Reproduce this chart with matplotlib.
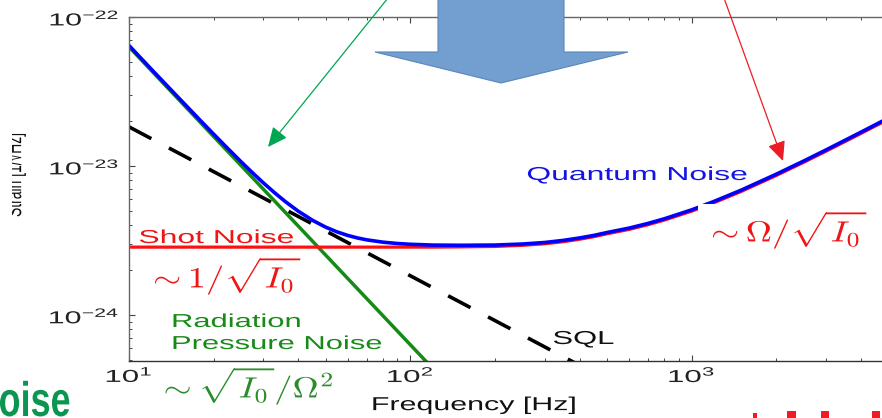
import matplotlib
matplotlib.use('Agg')
import matplotlib.pyplot as plt
from matplotlib.patches import Polygon, Rectangle, FancyArrowPatch
from matplotlib.patheffects import AbstractPathEffect
from matplotlib.transforms import Affine2D, offset_copy

# noise budget curves (Hz, strain / sqrt(Hz))
freq = [10, 12, 15, 18, 20, 22, 25, 28, 30, 33, 36, 40, 45, 50, 55, 60, 65, 70, 80, 90,
        100, 120, 150, 200, 250, 300, 350, 400, 450, 500, 600, 700, 800, 1000, 1200,
        1500, 2000, 2500, 3000, 4000, 5000, 6000]
shot_noise = [2.85e-24, 2.85e-24, 2.85e-24, 2.85e-24, 2.85e-24, 2.85e-24, 2.85e-24,
              2.85e-24, 2.85e-24, 2.85e-24, 2.85e-24, 2.85e-24, 2.85e-24, 2.85e-24,
              2.85e-24, 2.85e-24, 2.85e-24, 2.85e-24, 2.85e-24, 2.85e-24, 2.85e-24,
              2.85e-24, 2.86e-24, 2.88e-24, 2.93e-24, 3.00e-24, 3.10e-24, 3.22e-24,
              3.35e-24, 3.50e-24, 3.75e-24, 4.03e-24, 4.33e-24, 4.97e-24, 5.66e-24,
              6.74e-24, 8.63e-24, 1.057e-23, 1.254e-23, 1.653e-23, 2.055e-23, 2.46e-23]
quantum_noise = [6.31e-23, 4.376e-23, 2.814e-23, 1.965e-23, 1.601e-23, 1.333e-23, 1.047e-23,
                 8.526e-24, 7.558e-24, 6.449e-24, 5.635e-24, 4.861e-24, 4.219e-24, 3.804e-24,
                 3.530e-24, 3.344e-24, 3.216e-24, 3.126e-24, 3.015e-24, 2.954e-24, 2.918e-24,
                 2.883e-24, 2.874e-24, 2.884e-24, 2.93e-24, 3.00e-24, 3.10e-24, 3.22e-24,
                 3.35e-24, 3.50e-24, 3.75e-24, 4.03e-24, 4.33e-24, 4.97e-24, 5.66e-24,
                 6.74e-24, 8.63e-24, 1.057e-23, 1.254e-23, 1.653e-23, 2.055e-23, 2.46e-23]
rp_freq = [10, 150]
rp_noise = [6.3e-23, 2.8e-25]
sql_freq = [10, 1000]
sql = [1.83e-23, 1.83e-25]

W, H = 882, 418


def fx(x):
    return x / W


def fy(y):
    return 1 - y / H


class Stretch(AbstractPathEffect):
    # widen glyphs horizontally, keeping one edge (or the centre) fixed
    def __init__(self, sx, anchor='center'):
        super().__init__()
        self.sx = sx
        self.anchor = anchor

    def draw_path(self, renderer, gc, tpath, affine, rgbFace=None):
        ext = tpath.get_extents(affine)
        if self.anchor == 'left':
            x0 = ext.x0
        elif self.anchor == 'right':
            x0 = ext.x1
        else:
            x0 = (ext.x0 + ext.x1) / 2
        t = affine + Affine2D().translate(-x0, 0).scale(self.sx, 1).translate(x0, 0)
        renderer.draw_path(gc, tpath, t, rgbFace)


plt.rcParams['font.family'] = ['Liberation Sans', 'DejaVu Sans']

fig = plt.figure(figsize=(W / 100, H / 100), dpi=100)
ax = fig.add_axes([fx(129), fy(361), (973 - 129) / W, (361 - 17) / H])
ax.set_xscale('log')
ax.set_yscale('log')
ax.set_xlim(10, 1e4)
ax.set_ylim(4.9e-25, 1e-22)

ax.plot(sql_freq, sql, color='black', lw=2.6, ls=(0, (7, 5.5)))
ax.plot(rp_freq, rp_noise, color='#168a16', lw=2.5)
ax.plot(freq, shot_noise, color='#ff1010', lw=2.3)
ax.plot(freq, quantum_noise, color='#0000ff', lw=2.6, solid_joinstyle='round',
        transform=offset_copy(ax.transData, fig=fig, y=1.3, units='dots'))

ax.set_xticks([10, 100, 1000, 10000])
ax.set_yticks([1e-24, 1e-23, 1e-22])
ax.tick_params(which='both', direction='in', top=True, right=True, colors='#444444',
               labelcolor='#222222', labelsize=12.5)
ax.tick_params(which='major', length=4.5, width=0.8)
ax.tick_params(which='minor', length=2.3, width=0.7)
ax.tick_params(axis='x', pad=3)
ax.tick_params(axis='y', pad=7)
for side in ['left', 'top', 'right']:
    ax.spines[side].set_color('#666666')
ax.spines['bottom'].set_color('#333333')
for sp in ax.spines.values():
    sp.set_linewidth(1.0)

ax.set_xlabel('Frequency [Hz]', fontsize=13.5, color='#111111')
ax.xaxis.set_label_coords((474 - 129) / 844.5, -0.105)
ax.xaxis.label.set_path_effects([Stretch(1.62)])

fig.canvas.draw()
for tick in ax.xaxis.get_major_ticks():
    tick.label1.set_path_effects([Stretch(1.8, 'center')])
for tick in ax.yaxis.get_major_ticks():
    tick.label1.set_path_effects([Stretch(1.75, 'right')])


def label(x, y, s, size, color, sx=1.65, ha='left', va='baseline', **kw):
    t = fig.text(fx(x), fy(y), s, fontsize=size, color=color, ha=ha, va=va, **kw)
    t.set_path_effects([Stretch(sx, ha)])
    return t


# white boxes behind the scaling laws
for x0, y0, x1, y1 in [(145, 252, 318, 296), (698, 204, 890, 252)]:
    fig.add_artist(Rectangle((fx(x0), fy(y1)), (x1 - x0) / W, (y1 - y0) / H,
                             transform=fig.transFigure, facecolor='white',
                             edgecolor='none', zorder=1.5))

label(139, 243, 'Shot Noise', 13.5, '#f01414', sx=1.7)
label(527, 180, 'Quantum Noise', 13.5, '#1414e6', sx=1.7)
label(172, 327, 'Radiation', 13.5, '#178a17')
label(172, 349, 'Pressure Noise', 13.5, '#178a17')
label(553, 344, 'SQL', 13.5, '#111111')

label(225, 275, r'$\sim 1/\sqrt{I_0}$', 21, '#f01414', sx=1.25, ha='center',
      va='center', math_fontfamily='cm')
label(787, 229, r'$\sim \Omega/\sqrt{I_0}$', 21, '#f01414', sx=1.25, ha='center',
      va='center', math_fontfamily='cm')
label(246, 385, r'$\sim \sqrt{I_0}/\Omega^2$', 21, '#2a8c2a', sx=1.25, ha='center',
      va='center', math_fontfamily='cm')

label(26, 175, 'Strain [1/√Hz]', 10, '#111111', ha='right', va='center', rotation=90)
fig.add_artist(Rectangle((0, fy(262)), 12 / W, 170 / H, transform=fig.transFigure,
                         facecolor='white', edgecolor='none', zorder=4))

label(71, 416, 'Noise', 35, '#0a9650', sx=0.74, ha='right', weight='bold')

# red title letters running off the bottom edge
for x0, x1, y0 in [(753, 757, 413), (787, 796, 411), (821, 829, 411), (872, 880, 411)]:
    fig.add_artist(Rectangle((fx(x0), 0), (x1 - x0) / W, (H - y0) / H,
                             transform=fig.transFigure, facecolor='#ee1c25',
                             edgecolor='none', zorder=4))

# block arrow across the top
arrow = Polygon([(fx(438), fy(-5)), (fx(564), fy(-5)), (fx(564), fy(52)), (fx(628), fy(52)),
                 (fx(501), fy(83)), (fx(375), fy(52)), (fx(438), fy(52))],
                closed=True, transform=fig.transFigure, facecolor='#729fcf',
                edgecolor='#5a86bb', lw=0.8, zorder=2)
fig.add_artist(arrow)

for (xa, ya), (xb, yb), col in [((388, -2), (268, 147), '#00a651'),
                                ((724, -2), (783, 161), '#ed1c24')]:
    fig.add_artist(FancyArrowPatch((fx(xa), fy(ya)), (fx(xb), fy(yb)),
                                   transform=fig.transFigure, color=col, lw=0.9,
                                   arrowstyle='-|>,head_length=12,head_width=5.5',
                                   shrinkA=0, shrinkB=0, zorder=2))

fig.savefig('out.png', dpi=100)
